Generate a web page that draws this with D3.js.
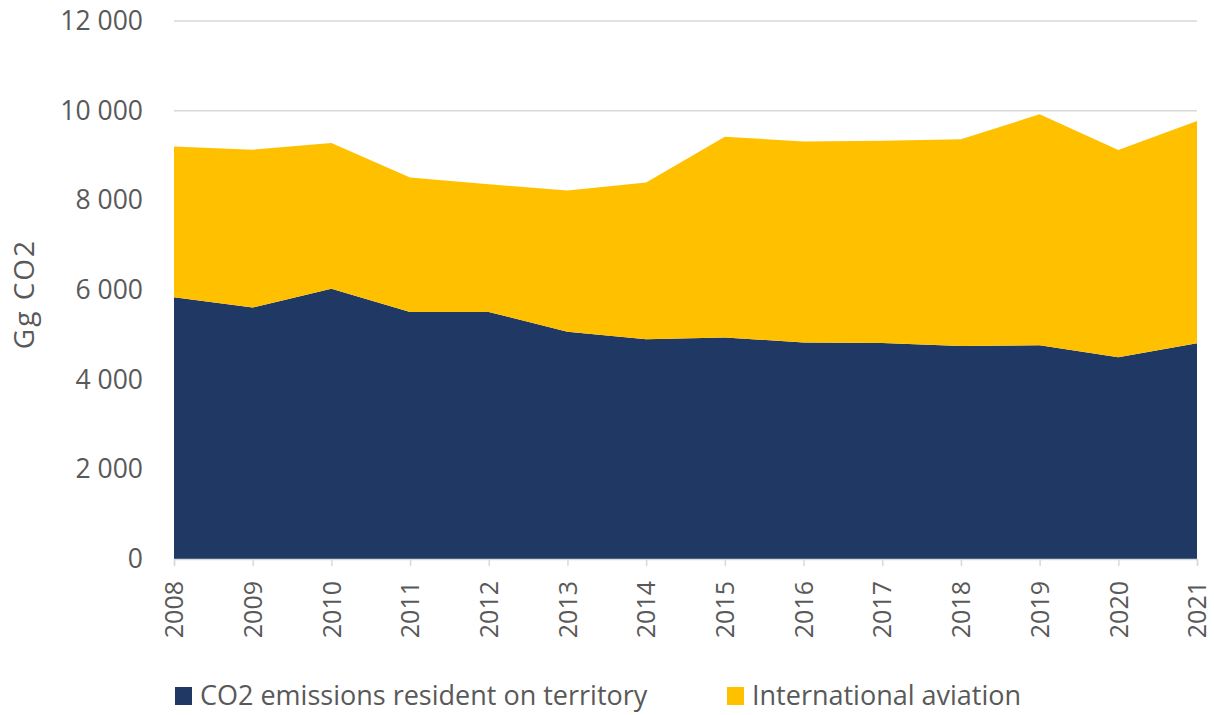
<!DOCTYPE html>
<html><head><meta charset="utf-8">
<script src="https://cdn.jsdelivr.net/npm/d3@7"></script>
<style>body{margin:0;background:#fff}svg{display:block}</style>
</head><body>
<svg id="c" width="1214" height="715"></svg>
<script>
const years = [2008,2009,2010,2011,2012,2013,2014,2015,2016,2017,2018,2019,2020,2021];
const resident = [5840,5610,6030,5510,5510,5070,4900,4940,4830,4820,4750,4770,4500,4810];
const aviation = [3360,3520,3250,3000,2850,3150,3500,4480,4480,4510,4610,5150,4620,4960];
const seriesNames = ["CO2 emissions resident on territory","International aviation"];
const seriesColors = ["#203864","#FFC000"];
const yTicks = [0,2000,4000,6000,8000,10000,12000];

const svg = d3.select("#c");
const font = "'Open Sans', sans-serif";
const textColor = "#595959";
const m = {l:174, r:1197, t:21, b:559};
const x = d3.scaleLinear().domain([years[0], years[years.length-1]]).range([m.l, m.r]);
const y = d3.scaleLinear().domain([0,12000]).range([m.b, m.t]);

const fmt = v => d3.format(",")(v).replace(/,/g, " ");

// gridlines
svg.append("g").selectAll("line").data(yTicks.filter(d=>d>0)).join("line")
  .attr("x1", m.l).attr("x2", m.r).attr("y1", d=>y(d)).attr("y2", d=>y(d))
  .attr("stroke", "#d9d9d9").attr("stroke-width", 1.5);

const data = years.map((yr,i)=>({year:yr, resident:resident[i], aviation:aviation[i]}));
const stack = d3.stack().keys(["resident","aviation"])(data);
const area = d3.area().x(d=>x(d.data.year)).y0(d=>y(d[0])).y1(d=>y(d[1]));
svg.append("g").selectAll("path").data(stack).join("path")
  .attr("d", area).attr("fill", (d,i)=>seriesColors[i]);

// y axis labels
const yAxis = d3.axisLeft(y).tickValues(yTicks).tickFormat(fmt).tickSize(0).tickPadding(31);
const gy = svg.append("g").attr("transform", `translate(${m.l},0)`).call(yAxis);
gy.select(".domain").remove();
gy.selectAll("text").attr("font-family", font).attr("font-size", 26.5).attr("fill", textColor);

// x axis
const xAxis = d3.axisBottom(x).tickValues(years).tickFormat(d3.format("d")).tickSize(7).tickPadding(10);
const gx = svg.append("g").attr("transform", `translate(0,${m.b})`).call(xAxis);
gx.select(".domain").attr("stroke", "#d9d9d9").attr("stroke-width", 1.5);
gx.selectAll(".tick line").attr("stroke", "#d9d9d9").attr("stroke-width", 1.5);
gx.selectAll("text").attr("font-family", font).attr("font-size", 25).attr("fill", textColor)
  .attr("transform", "rotate(-90)").attr("text-anchor", "end")
  .attr("x", -22).attr("y", 0).attr("dy", "0.35em");

// y label
svg.append("text").attr("transform", "translate(34,294) rotate(-90)")
  .attr("text-anchor", "middle").attr("font-family", font).attr("font-size", 28)
  .attr("letter-spacing", 2).attr("fill", textColor).text("Gg CO2");

// legend
const legX = [175, 727];
const lg = svg.append("g").selectAll("g").data(seriesNames).join("g")
  .attr("transform", (d,i)=>`translate(${legX[i]},687)`);
lg.append("rect").attr("width", 17).attr("height", 18).attr("fill", (d,i)=>seriesColors[i]);
lg.append("text").attr("x", 25).attr("y", 9).attr("dy", "0.35em")
  .attr("font-family", font).attr("font-size", 27).attr("fill", textColor).text(d=>d);
</script>
</body></html>
